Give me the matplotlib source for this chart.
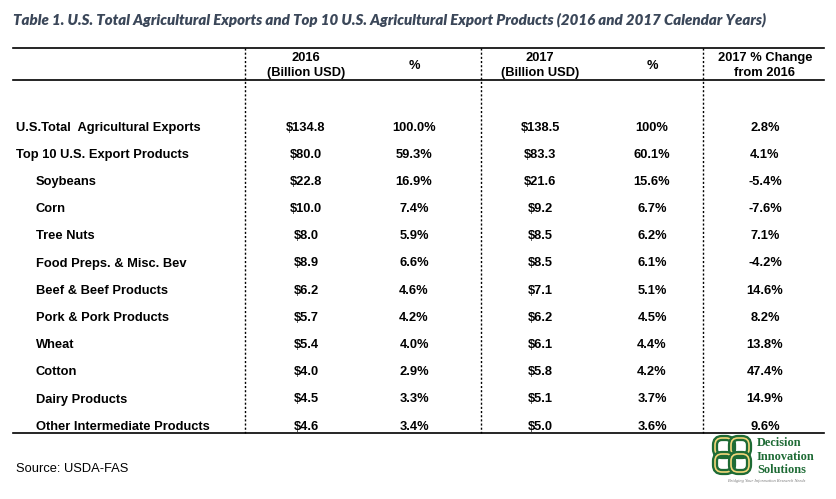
import matplotlib
matplotlib.use("Agg")
import matplotlib.pyplot as plt
from matplotlib.patches import FancyBboxPatch

# ---- data ----
labels = ["U.S.Total  Agricultural Exports", "Top 10 U.S. Export Products",
          "Soybeans", "Corn", "Tree Nuts", "Food Preps. & Misc. Bev",
          "Beef & Beef Products", "Pork & Pork Products", "Wheat", "Cotton",
          "Dairy Products", "Other Intermediate Products"]
indent = [0, 0, 1, 1, 1, 1, 1, 1, 1, 1, 1, 1]
val_2016 = [134.8, 80.0, 22.8, 10.0, 8.0, 8.9, 6.2, 5.7, 5.4, 4.0, 4.5, 4.6]
pct_2016 = [100.0, 59.3, 16.9, 7.4, 5.9, 6.6, 4.6, 4.2, 4.0, 2.9, 3.3, 3.4]
val_2017 = [138.5, 83.3, 21.6, 9.2, 8.5, 8.5, 7.1, 6.2, 6.1, 5.8, 5.1, 5.0]
pct_2017 = ["100%", "60.1%", "15.6%", "6.7%", "6.2%", "6.1%", "5.1%", "4.5%",
            "4.4%", "4.2%", "3.7%", "3.6%"]
chg = [2.8, 4.1, -5.4, -7.6, 7.1, -4.2, 14.6, 8.2, 13.8, 47.4, 14.9, 9.6]
headers = ["2016\n(Billion USD)", "%", "2017\n(Billion USD)", "%", "2017 % Change\nfrom 2016"]
title = "Table 1. U.S. Total Agricultural Exports and Top 10 U.S. Agricultural Export Products (2016 and 2017 Calendar Years)"
source = "Source: USDA-FAS"

body = "Liberation Sans"

W, H = 836, 499
fig = plt.figure(figsize=(W / 100, H / 100), dpi=100)
ax = fig.add_axes([0, 0, 1, 1])
ax.set_xlim(0, W)
ax.set_ylim(H, 0)
ax.axis("off")

# title, fitted to width
t = ax.text(13, 20, title, fontsize=11, fontweight="heavy", style="italic",
            family="Lato", color="#3b4759", va="center", ha="left")
fig.canvas.draw()
w = t.get_window_extent(fig.canvas.get_renderer()).width
t.set_fontsize(11 * 752 / w)

# rules
ax.plot([13, 824], [48, 48], color="black", lw=1.2)
ax.plot([13, 824], [80, 80], color="black", lw=1.2)
ax.plot([13, 824], [433, 433], color="black", lw=1.2)
for x in [245, 481, 703]:
    ax.plot([x, x], [48, 433], color="black", lw=1.0, ls=(0, (1.5, 1.5)))

fs = 9.3
col_x = [306, 414, 540, 652, 765]
hdr_y = [65.5, 66, 65.5, 66, 65.5]
for x, y, h in zip(col_x, hdr_y, headers):
    ax.text(x, y, h, fontsize=fs, fontweight="bold", family=body, ha="center",
            va="center", linespacing=1.3)

row_y0, row_dy = 127.5, 27.2
for i, lab in enumerate(labels):
    y = row_y0 + i * row_dy
    lx = 16 if indent[i] == 0 else 36
    ax.text(lx, y, lab, fontsize=fs, fontweight="bold", family=body, ha="left", va="center")
    cells = [f"${val_2016[i]:.1f}", f"{pct_2016[i]:.1f}%", f"${val_2017[i]:.1f}",
             pct_2017[i], f"{chg[i]:.1f}%"]
    for x, c in zip(col_x, cells):
        ax.text(x, y, c, fontsize=fs, fontweight="bold", family=body, ha="center", va="center")

ax.text(16, 469, source, fontsize=9.3, family=body, ha="left", va="center")

# logo
green = "#1e6b35"
yellow = "#f3d77a"
cx, cy = 732, 455
for dx, dy in [(-8, -8), (8, -8), (-8, 8), (8, 8)]:
    ax.add_patch(FancyBboxPatch((cx + dx - 9, cy + dy - 9), 18, 18,
                                boxstyle="round,pad=0,rounding_size=7",
                                fc="none", ec=green, lw=4.5))
    ax.add_patch(FancyBboxPatch((cx + dx - 9, cy + dy - 9), 18, 18,
                                boxstyle="round,pad=0,rounding_size=7",
                                fc="none", ec=yellow, lw=1.2))
for k, tt in enumerate(["Decision", "Innovation", "Solutions"]):
    ax.text(757, 443 + k * 13.5, tt, fontsize=8.8, fontweight="bold",
            family="Liberation Serif", color=green, ha="left", va="center")
ax.text(767, 481, "Bridging Your Information Research Needs", fontsize=3.2,
        style="italic", family="Liberation Serif", color="#777777", ha="center", va="center")

fig.savefig("out.png", dpi=100)
